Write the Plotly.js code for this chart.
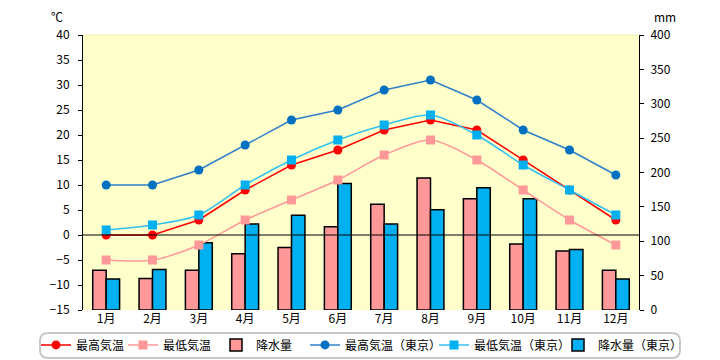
<!DOCTYPE html>
<html>
<head>
<meta charset="utf-8">
<script src="https://cdn.plot.ly/plotly-3.0.1.min.js"></script>
<style>
html,body{margin:0;padding:0;background:#fff;}
#chart{width:720px;height:360px;}
</style>
</head>
<body>
<div id="chart"></div>
<script>
var months = ["1月","2月","3月","4月","5月","6月","7月","8月","9月","10月","11月","12月"];
var maxTemp = [0, 0, 3, 9, 14, 17, 21, 23, 21, 15, 9, 3];
var minTemp = [-5, -5, -2, 3, 7, 11, 16, 19, 15, 9, 3, -2];
var rain = [58, 46, 58, 82, 91, 121, 154, 192, 162, 96, 86, 58];
var maxTempTokyo = [10, 10, 13, 18, 23, 25, 29, 31, 27, 21, 17, 12];
var minTempTokyo = [1, 2, 4, 10, 15, 19, 22, 24, 20, 14, 9, 4];
var rainTokyo = [45, 59, 98, 125, 138, 184, 125, 146, 178, 162, 88, 45];

var names = ["最高気温","最低気温","降水量","最高気温（東京）","最低気温（東京）","降水量（東京）"];
var FONT = '"Noto Sans CJK JP", "Noto Sans", sans-serif';

var traces = [
  {type:'scatter', mode:'lines+markers', name:names[0], x:months, y:maxTemp, yaxis:'y2', legend:'legend',
   line:{color:'#FF0000', width:1.5}, marker:{symbol:'circle', size:9, color:'#FF0000'}},
  {type:'scatter', mode:'lines+markers', name:names[1], x:months, y:minTemp, yaxis:'y2', legend:'legend2',
   line:{color:'#FF9999', width:1.5, shape:'spline', smoothing:0.8}, marker:{symbol:'square', size:9, color:'#FF9999'}},
  {type:'bar', name:names[2], x:months, y:rain, yaxis:'y', legend:'legend3',
   marker:{color:'#FF9999', line:{color:'#000000', width:1.5}}},
  {type:'scatter', mode:'lines+markers', name:names[3], x:months, y:maxTempTokyo, yaxis:'y2', legend:'legend4',
   line:{color:'#2E80C8', width:1.5}, marker:{symbol:'circle', size:9, color:'#0070C0'}},
  {type:'scatter', mode:'lines+markers', name:names[4], x:months, y:minTempTokyo, yaxis:'y2', legend:'legend5',
   line:{color:'#33C0F0', width:1.5, shape:'spline', smoothing:0.8}, marker:{symbol:'square', size:9, color:'#00B0F0'}},
  {type:'bar', name:names[5], x:months, y:rainTokyo, yaxis:'y', legend:'legend6',
   marker:{color:'#00B0F0', line:{color:'#000000', width:1.5}}}
];

// rounded legend frame
function rr(x0,y0,x1,y1,rx,ry){
  return 'M'+(x0+rx)+','+y0+' L'+(x1-rx)+','+y0+' Q'+x1+','+y0+' '+x1+','+(y0-ry)+
         ' L'+x1+','+(y1+ry)+' Q'+x1+','+y1+' '+(x1-rx)+','+y1+
         ' L'+(x0+rx)+','+y1+' Q'+x0+','+y1+' '+x0+','+(y1+ry)+
         ' L'+x0+','+(y0-ry)+' Q'+x0+','+y0+' '+(x0+rx)+','+y0+' Z';
}

function mkLegend(px){
  return {orientation:'h', xref:'container', yref:'container', x:px/720, xanchor:'left', y:0.042, yanchor:'middle',
          font:{family:FONT, size:12}, bgcolor:'rgba(0,0,0,0)', borderwidth:0,
          itemwidth:30, itemgap:0, tracegroupgap:0};
}
var legendX = [36, 123, 216, 305, 434, 558];

var layout = {
  width:720, height:360,
  margin:{l:83, r:81, t:35, b:50, pad:0, autoexpand:false},
  paper_bgcolor:'#FFFFFF',
  plot_bgcolor:'#FFFFCC',
  font:{family:FONT, size:12, color:'#000000'},
  showlegend:true,
  barmode:'group', bargap:0.42, bargroupgap:0,
  xaxis:{type:'category', range:[-0.5,11.5], showline:false, ticks:'', showgrid:false, zeroline:false,
         tickfont:{family:FONT, size:12}, fixedrange:true, automargin:false},
  yaxis:{side:'right', range:[0,400], dtick:50, tick0:0, ticks:'outside', ticklen:4, tickcolor:'#000',
         showline:true, linecolor:'#000', linewidth:1, showgrid:false, zeroline:false,
         tickfont:{family:FONT, size:12}, ticklabelstandoff:4, automargin:false},
  yaxis2:{overlaying:'y', side:'left', range:[-15,40], dtick:5, tick0:-15, ticks:'outside', ticklen:4, tickcolor:'#000',
         showline:true, linecolor:'#000', linewidth:1, showgrid:false, zeroline:false,
         tickfont:{family:FONT, size:12}, ticklabelstandoff:6, automargin:false},
  legend: mkLegend(legendX[0]),
  legend2: mkLegend(legendX[1]),
  legend3: mkLegend(legendX[2]),
  legend4: mkLegend(legendX[3]),
  legend5: mkLegend(legendX[4]),
  legend6: mkLegend(legendX[5]),
  shapes:[
    {type:'line', xref:'paper', yref:'y2', x0:0, x1:1, y0:0, y1:0, layer:'above',
     line:{color:'#000000', width:1}},
    {type:'line', xref:'paper', yref:'paper', x0:0, x1:1, y0:1, y1:1, layer:'above',
     line:{color:'#F4F0A8', width:1}},
    {type:'path', xref:'paper', yref:'paper', layer:'below',
     path: rr(-0.0773, -0.0836, 1.0737, -0.1745, 0.0144, 0.029),
     line:{color:'#C8C8C8', width:2}, fillcolor:'rgba(0,0,0,0)'}
  ],
  annotations:[
    {text:'℃', xref:'paper', yref:'paper', x:-0.047, y:1.069, xanchor:'center', yanchor:'middle', showarrow:false,
     font:{family:FONT, size:12}},
    {text:'mm', xref:'paper', yref:'paper', x:1.047, y:1.069, xanchor:'center', yanchor:'middle', showarrow:false,
     font:{family:FONT, size:12}}
  ]
};

Plotly.newPlot('chart', traces, layout, {staticPlot:true, displayModeBar:false});
</script>
</body>
</html>
